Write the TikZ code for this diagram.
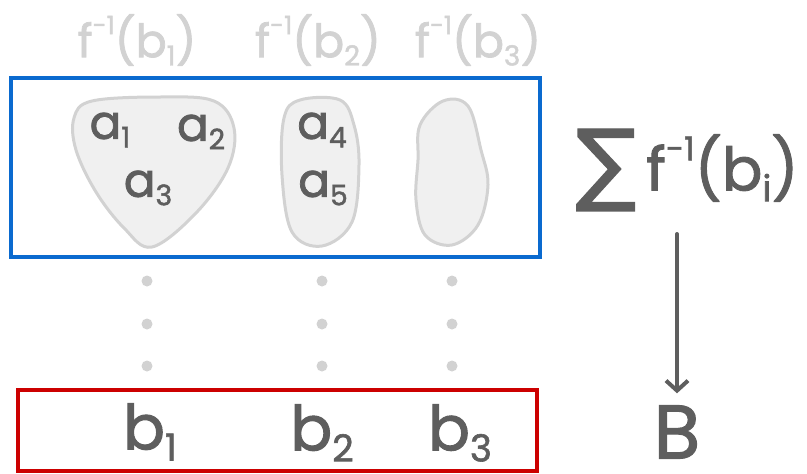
\documentclass[tikz,border=0pt]{standalone}
\usepackage{fontspec}
\usetikzlibrary{arrows.meta}
\setmainfont{Poppins}[FakeBold=1.6]
\newfontfamily\symfont{DejaVu Sans}[FakeBold=1.5]
\definecolor{ink}{HTML}{5E5E5E}
\definecolor{faint}{HTML}{D2D2D2}
\definecolor{blobfill}{HTML}{F0F0F0}
\definecolor{bluebox}{HTML}{0A6ACF}
\definecolor{redbox}{HTML}{CC0000}
\makeatletter
\newcommand{\sps}[1]{\raisebox{0.5em}{\fontsize{\dimexpr0.55\dimexpr\f@size pt\relax\relax}{1pt}\selectfont #1}}
\newcommand{\sbs}[1]{\raisebox{-0.18em}{\fontsize{\dimexpr0.6\dimexpr\f@size pt\relax\relax}{1pt}\selectfont #1}}
\makeatother
\begin{document}
\begin{tikzpicture}[x=1pt,y=-1pt,
  lbl/.style={text=ink,font=\fontsize{47}{49}\selectfont,inner sep=0pt},
  toplbl/.style={text=faint,font=\fontsize{46}{48}\selectfont,inner sep=0pt},
  blob/.style={draw=faint,fill=blobfill,line width=3pt,line join=round},
  dotn/.style={circle,fill=faint,minimum size=11pt,inner sep=0pt},
  box/.style={line width=4pt}]
\useasboundingbox (0,0) rectangle (807,474);
% top labels
\node[toplbl] (t1) at (137,40) {f\sps{-1}(b\sbs{1})};
\node[toplbl] (t2) at (318,40) {f\sps{-1}(b\sbs{2})};
\node[toplbl] (t3) at (478,40) {f\sps{-1}(b\sbs{3})};
% blue box
\draw[box,draw=bluebox] (11,78) rectangle (540,257);
% blobs
\draw[blob] plot[smooth cycle,tension=0.6] coordinates {(74,118) (92,101) (160,97) (214,101) (234,128) (228,168) (196,213) (152,247) (124,228) (96,192) (76,150)};
\draw[blob] plot[smooth cycle,tension=0.6] coordinates {(284,118) (300,100) (340,100) (354,125) (359,165) (352,222) (322,246) (292,232) (282,175)};
\draw[blob] plot[smooth cycle,tension=0.6] coordinates {(420,125) (443,101) (468,106) (481,150) (488,185) (478,225) (452,245) (425,235) (416,200) (418,160)};
\node[lbl] (a1) at (110,130) {a\sbs{1}};
\node[lbl] (a2) at (201,132) {a\sbs{2}};
\node[lbl] (a3) at (148,188) {a\sbs{3}};
\node[lbl] (a4) at (322,130) {a\sbs{4}};
\node[lbl] (a5) at (323,188) {a\sbs{5}};
% dots
\foreach \c/\x in {1/147,2/322,3/452}{
  \node[dotn] (d\c a) at (\x,281) {};
  \node[dotn] (d\c b) at (\x,324) {};
  \node[dotn] (d\c c) at (\x,366) {};
}
% red box
\draw[box,draw=redbox] (18,390) rectangle (537,471);
\node[lbl,font=\fontsize{62}{64}\selectfont] (b1) at (150,432) {b\sbs{1}};
\node[lbl,font=\fontsize{62}{64}\selectfont] (b2) at (322,433) {b\sbs{2}};
\node[lbl,font=\fontsize{62}{64}\selectfont] (b3) at (460,433) {b\sbs{3}};
% right side
\node[text=ink,inner sep=0pt,font=\symfont\fontsize{90}{90}\selectfont] (sig) at (606,170) {∑};
\node[lbl,font=\fontsize{60}{62}\selectfont,anchor=west] (sum) at (646,168) {f\sps{-1}(b\sbs{i})};
\node[lbl,font=\fontsize{76}{78}\selectfont] (B) at (677,432) {B};
\coordinate (arrtop) at (B.north |- 0,234);
\draw[draw=ink,line width=4pt,line cap=round,shorten >=12pt,-{Straight Barb[length=10pt,width=22pt,line width=4pt]}] (arrtop) -- (B.north);
\end{tikzpicture}
\end{document}
